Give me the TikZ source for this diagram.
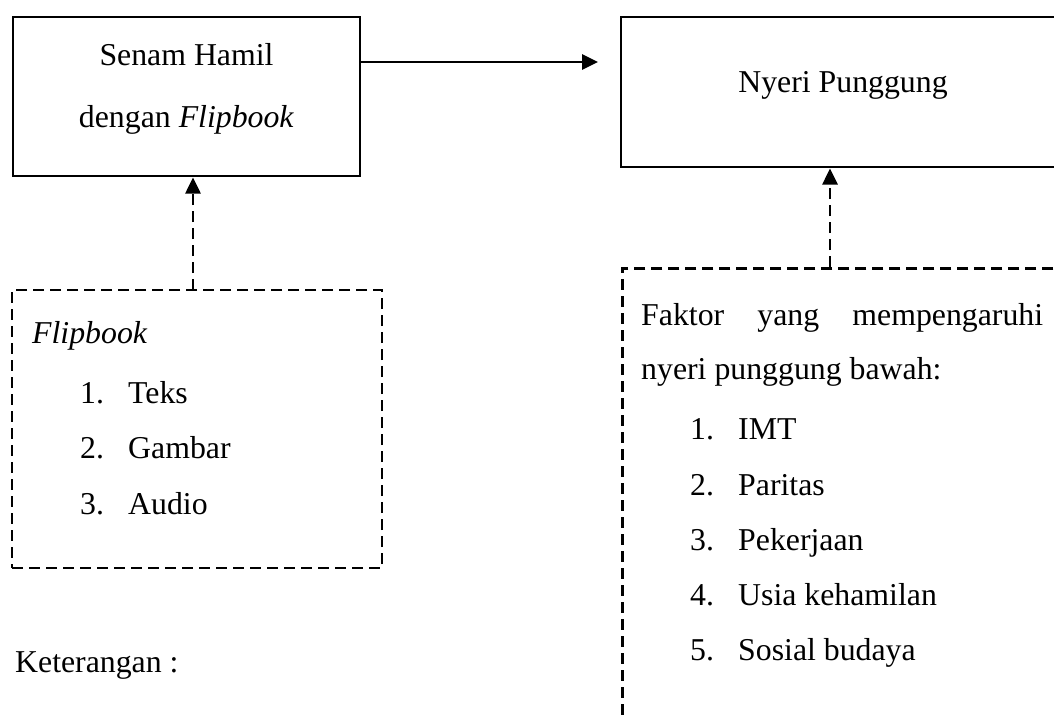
\documentclass[tikz,border=0pt]{standalone}
\usepackage{fontspec}
\setmainfont{Liberation Serif}
\usetikzlibrary{arrows.meta}
\begin{document}
\begin{tikzpicture}[x=1pt,y=1pt,
  solidbox/.style={draw=black,line width=2.9pt,minimum width=347pt,minimum height=159pt,inner sep=0pt},
  dashbox/.style={draw=black,line width=2.6pt,dash pattern=on 11pt off 6pt},
  txt/.style={anchor=base west,inner sep=0pt,font=\fontsize{31.8}{38}\selectfont},
  ctxt/.style={anchor=base,inner sep=0pt,font=\fontsize{31.8}{38}\selectfont},
  solidarrow/.style={line width=2.7pt,-{Triangle[length=16pt,width=15pt]}},
  dasharrow/.style={line width=2.6pt,dash pattern=on 11pt off 6pt,-{Triangle[length=16pt,width=15pt]}}
]
\clip (0,0) rectangle (1054,-716);
\fill[white] (0,0) rectangle (1054,-716);
% top boxes
\node[solidbox] (senam) at (186.5,-96.5) {};
\node[solidbox,minimum width=460pt,minimum height=150pt] (nyeri) at (851,-92) {};
\node[ctxt] (senam1) at (186.5,-65) {Senam Hamil};
\node[ctxt] (senam2) at (186.5,-127) {dengan \textit{Flipbook}};
\node[ctxt] (nyeritxt) at (843,-92) {Nyeri Punggung};
\coordinate (arrend) at (598,-62);
\draw[solidarrow] (senam.east |- arrend) -- (arrend);
% left dashed box
\node[dashbox,minimum width=370pt,minimum height=278pt,inner sep=0pt] (flip) at (197,-429) {};
\node[txt] (fliptitle) at (32,-343) {\textit{Flipbook}};
\node[txt] (n1) at (80,-403) {1.};
\node[txt] (t1) at (128,-403) {Teks};
\node[txt] (n2) at (80,-458) {2.};
\node[txt] (t2) at (128,-458) {Gambar};
\node[txt] (n3) at (80,-514) {3.};
\node[txt] (t3) at (128,-514) {Audio};
\coordinate (flipup) at (193,-290);
\draw[dasharrow] (flipup) -- (193,-177.5);
% right dashed box
\node[dashbox,minimum width=460pt,minimum height=480pt,inner sep=0pt,anchor=north west] (faktor) at (621,-267) {};
\node[txt] (f1) at (641,-325) {\makebox[402pt][s]{Faktor\hfill yang\hfill mempengaruhi}};
\node[txt] (f2) at (641,-379) {nyeri punggung bawah:};
\node[txt] (m1) at (690,-439) {1.};
\node[txt] (i1) at (738,-439) {IMT};
\node[txt] (m2) at (690,-495) {2.};
\node[txt] (i2) at (738,-495) {Paritas};
\node[txt] (m3) at (690,-550) {3.};
\node[txt] (i3) at (738,-550) {Pekerjaan};
\node[txt] (m4) at (690,-605) {4.};
\node[txt] (i4) at (738,-605) {Usia kehamilan};
\node[txt] (m5) at (690,-660) {5.};
\node[txt] (i5) at (738,-660) {Sosial budaya};
\coordinate (faktorup) at (830,-267);
\draw[dasharrow] (faktorup) -- (830,-168.5);
% note
\node[txt] (ket) at (15,-672) {Keterangan :};
\end{tikzpicture}
\end{document}
